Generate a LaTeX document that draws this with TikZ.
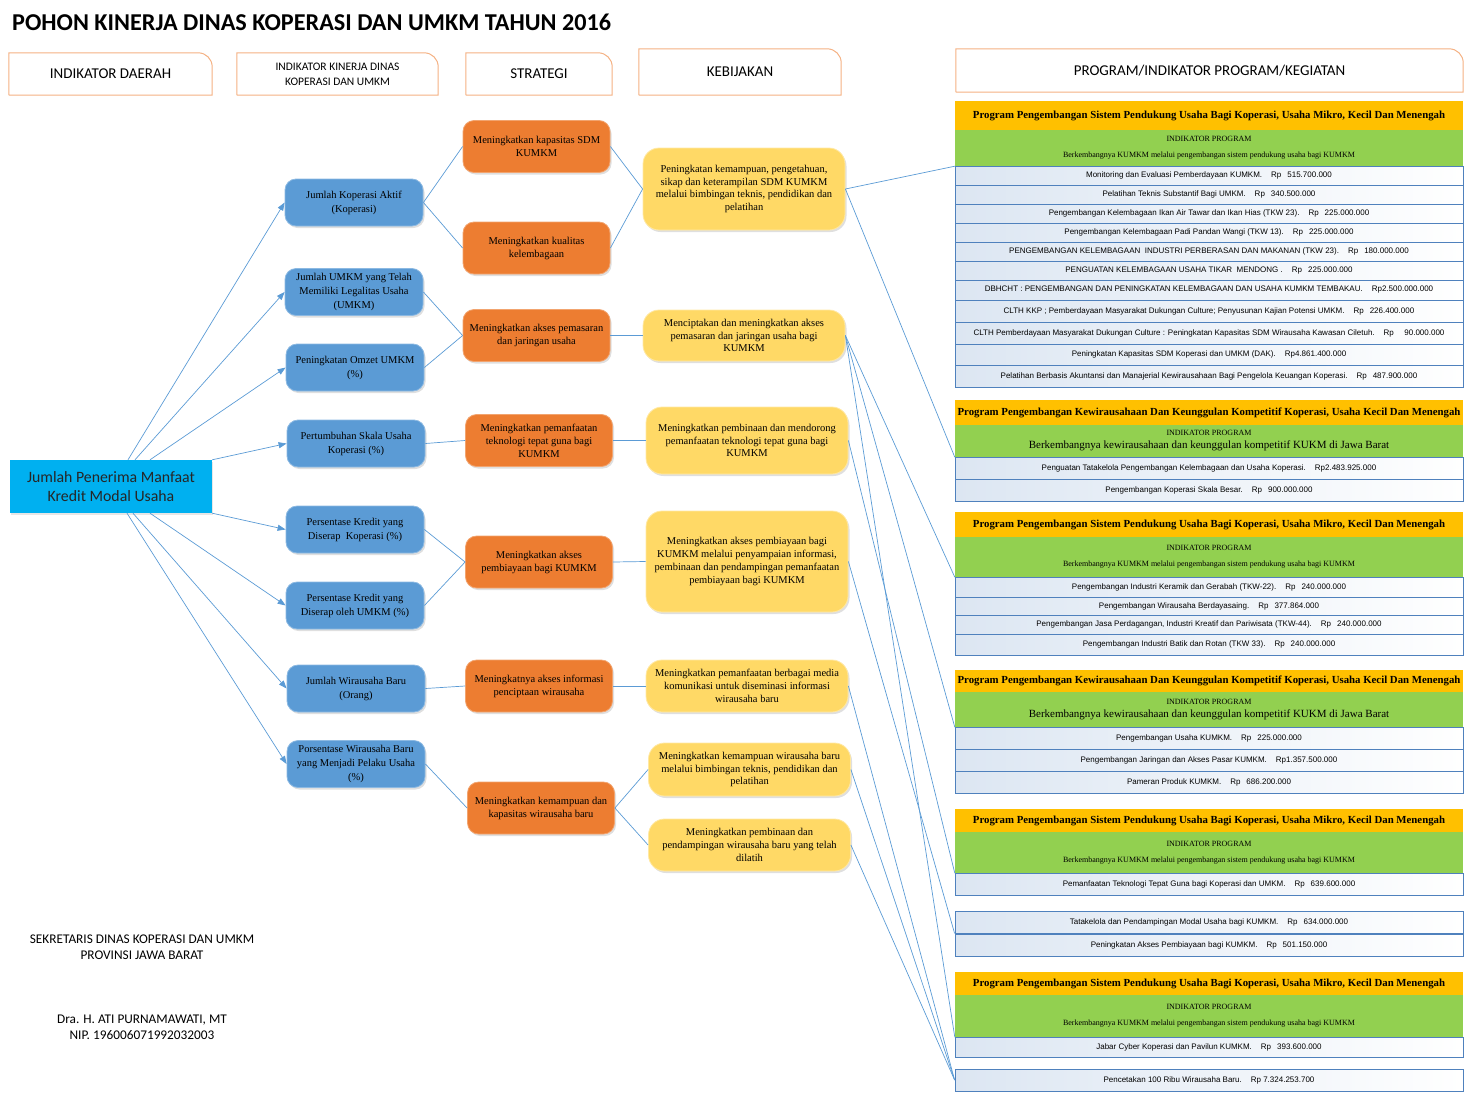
\documentclass[tikz,border=0pt]{standalone}
\usepackage{fontspec}
\setmainfont{Liberation Serif}
\newfontfamily\calibfont{Carlito}
\newfontfamily\arialfont{Liberation Sans}
\usetikzlibrary{arrows.meta,shadows}

\definecolor{RootClr}{RGB}{0,176,240}
\definecolor{IndClr}{RGB}{91,155,213}
\definecolor{StrClr}{RGB}{237,125,49}
\definecolor{KebClr}{RGB}{255,217,102}
\definecolor{ProgClr}{RGB}{255,192,0}
\definecolor{IndProgClr}{RGB}{146,208,80}
\definecolor{LinkClr}{RGB}{91,155,213}
\definecolor{HdrClr}{RGB}{244,177,131}
\definecolor{RowClr}{RGB}{79,129,189}
\definecolor{RowFill}{RGB}{220,230,242}

\newcommand{\progSis}{Program Pengembangan Sistem Pendukung Usaha Bagi Koperasi, Usaha Mikro, Kecil Dan Menengah}
\newcommand{\progKew}{Program Pengembangan Kewirausahaan Dan Keunggulan Kompetitif Koperasi, Usaha Kecil Dan Menengah}
\newcommand{\indSis}{{\fontsize{8}{9}\selectfont INDIKATOR PROGRAM}\\[4pt]{\fontsize{8}{9}\selectfont Berkembangnya KUMKM melalui pengembangan sistem pendukung usaha bagi KUMKM}}
\newcommand{\indKew}{{\fontsize{8}{9}\selectfont INDIKATOR PROGRAM}\\[1pt]{\fontsize{11}{12}\selectfont Berkembangnya kewirausahaan dan keunggulan kompetitif KUKM di Jawa Barat}}
\newcommand{\Rp}[1]{\hspace{9pt}Rp\hspace{6pt}#1}
\newcommand{\Rpn}[1]{\hspace{9pt}Rp#1}

\tikzset{
  judul/.style={anchor=west,inner sep=0pt,font=\calibfont\bfseries\fontsize{24.2}{27}\selectfont},
  hdrbox/.style={inner sep=1pt,align=center,font=\calibfont\fontsize{15}{17}\selectfont},
  hdrline/.style={draw=HdrClr,line width=1pt},
  rootbox/.style={fill=RootClr,minimum width=202pt,minimum height=53pt,align=center,
    text=black!85,font=\calibfont\fontsize{15.8}{19}\selectfont,
    drop shadow={shadow xshift=1pt,shadow yshift=-1.5pt,opacity=0.2}},
  indbox/.style={fill=IndClr,draw=IndClr!70!white,line width=0.8pt,rounded corners=11pt,
    minimum width=138pt,minimum height=47pt,inner sep=1pt,align=center,
    font=\fontsize{10.5}{14}\selectfont,
    drop shadow={shadow xshift=1.5pt,shadow yshift=-2pt,opacity=0.25}},
  strbox/.style={indbox,fill=StrClr,draw=StrClr!70!white,minimum width=147pt,minimum height=52pt,
    font=\fontsize{10.5}{13}\selectfont},
  kebbox/.style={indbox,fill=KebClr,draw=KebClr!60!white,rounded corners=16pt,minimum width=202pt,
    font=\fontsize{10.5}{12.7}\selectfont},
  proghead/.style={fill=ProgClr,minimum width=508pt,inner sep=1pt,
    font=\bfseries\fontsize{10.8}{12}\selectfont},
  progind/.style={fill=IndProgClr,minimum width=508pt,inner sep=1pt,align=center},
  kegiatan/.style={draw=RowClr,line width=0.8pt,left color=RowFill,right color=white,
    minimum width=508pt,inner sep=0pt,font=\arialfont\fontsize{8}{9}\selectfont},
  foot/.style={align=center,font=\calibfont\fontsize{13.3}{16}\selectfont},
  link/.style={draw=LinkClr,line width=0.7pt},
  panah/.style={link,-{Triangle[length=8pt,width=6pt]}}
}

\begin{document}
\begin{tikzpicture}[x=1pt,y=-1pt]
\useasboundingbox (0,0) rectangle (1473,1095);

% Judul dan kepala kolom.
\node[judul] (judul) at (12,22) {POHON KINERJA DINAS KOPERASI DAN UMKM TAHUN 2016};
\node[hdrbox,minimum width=203pt,minimum height=42pt] (hDaerah) at (110.5,74) {INDIKATOR DAERAH};
\node[hdrbox,minimum width=201pt,minimum height=42pt,font=\calibfont\fontsize{11.5}{15}\selectfont] (hKinerja) at (337.5,74) {INDIKATOR KINERJA DINAS\\KOPERASI DAN UMKM};
\node[hdrbox,minimum width=146pt,minimum height=42pt] (hStrategi) at (539,74) {STRATEGI};
\node[hdrbox,minimum width=202pt,minimum height=46pt] (hKebijakan) at (740,72) {KEBIJAKAN};
\node[hdrbox,minimum width=507pt,minimum height=43pt] (hProgram) at (1209.5,70.5) {PROGRAM/INDIKATOR PROGRAM/KEGIATAN};
\foreach \h in {hDaerah,hKinerja,hStrategi,hKebijakan,hProgram}
  \draw[hdrline] (\h.south west) |- ([xshift=-14pt]\h.north east) arc[start angle=90,end angle=0,radius=14pt] |- (\h.south west);

% Indikator daerah dan indikator kinerja.
\node[rootbox] (root) at (111,486.5) {Jumlah Penerima Manfaat\\Kredit Modal Usaha};

\node[indbox] (b1) at (354,202.5) {Jumlah Koperasi Aktif\\(Koperasi)};
\node[indbox] (b2) at (354,292) {Jumlah UMKM yang Telah\\Memiliki Legalitas Usaha\\(UMKM)};
\node[indbox] (b3) at (355,367.5) {Peningkatan Omzet UMKM\\(\%)};
\node[indbox] (b4) at (356,443.5) {Pertumbuhan Skala Usaha\\Koperasi (\%)};
\node[indbox] (b5) at (355,529.5) {Persentase Kredit yang\\Diserap\ \ Koperasi (\%)};
\node[indbox] (b6) at (355,605.5) {Persentase Kredit yang\\Diserap oleh UMKM (\%)};
\node[indbox] (b7) at (356,688.5) {Jumlah Wirausaha Baru\\(Orang)};
\node[indbox] (b8) at (356,764) {Porsentase Wirausaha Baru\\yang Menjadi Pelaku Usaha\\(\%)};

% Strategi.
\node[strbox] (o1) at (536.5,146.5) {Meningkatkan kapasitas SDM\\KUMKM};
\node[strbox] (o2) at (536.5,248) {Meningkatkan kualitas\\kelembagaan};
\node[strbox] (o3) at (536.5,335.5) {Meningkatkan akses pemasaran\\dan jaringan usaha};
\node[strbox] (o4) at (539,440.5) {Meningkatkan pemanfaatan\\teknologi tepat guna bagi\\KUMKM};
\node[strbox] (o5) at (539,562) {Meningkatkan akses\\pembiayaan bagi KUMKM};
\node[strbox] (o6) at (539,686) {Meningkatnya akses informasi\\penciptaan wirausaha};
\node[strbox] (o7) at (541,808) {Meningkatkan kemampuan dan\\kapasitas wirausaha baru};

% Kebijakan.
\node[kebbox,minimum height=82pt] (y1) at (744,189) {Peningkatan kemampuan, pengetahuan,\\sikap dan keterampilan SDM KUMKM\\melalui bimbingan teknis, pendidikan dan\\pelatihan};
\node[kebbox,minimum height=51pt] (y2) at (744,335.5) {Menciptakan dan meningkatkan akses\\pemasaran dan jaringan usaha bagi\\KUMKM};
\node[kebbox,minimum height=67pt] (y3) at (747,440.5) {Meningkatkan pembinaan dan mendorong\\pemanfaatan teknologi tepat guna bagi\\KUMKM};
\node[kebbox,minimum height=101pt] (y4) at (747,561.5) {Meningkatkan akses pembiayaan bagi\\KUMKM melalui penyampaian informasi,\\pembinaan dan pendampingan pemanfaatan\\pembiayaan bagi KUMKM};
\node[kebbox,minimum height=52pt] (y5) at (747,686) {Meningkatkan pemanfaatan berbagai media\\komunikasi untuk diseminasi informasi\\wirausaha baru};
\node[kebbox,minimum height=53pt] (y6) at (749.5,769.5) {Meningkatkan kemampuan wirausaha baru\\melalui bimbingan teknis, pendidikan dan\\pelatihan};
\node[kebbox,minimum height=52pt] (y7) at (749.5,845) {Meningkatkan pembinaan dan\\pendampingan wirausaha baru yang telah\\dilatih};

% Program dan indikator program.
\node[proghead,minimum height=29pt] (p1) at (1209,115.5) {\progSis};
\node[progind,minimum height=36pt] (g1) at (1209,148) {\indSis};
\node[proghead,minimum height=25pt] (p2) at (1209,412.5) {\progKew};
\node[progind,minimum height=32pt] (g2) at (1209,441) {\indKew};
\node[proghead,minimum height=25pt] (p3) at (1209,524.5) {\progSis};
\node[progind,minimum height=40pt] (g3) at (1209,557) {\indSis};
\node[proghead,minimum height=22pt] (p4) at (1209,681) {\progKew};
\node[progind,minimum height=35pt] (g4) at (1209,709.5) {\indKew};
\node[proghead,minimum height=23pt] (p5) at (1209,820.5) {\progSis};
\node[progind,minimum height=41pt] (g5) at (1209,852.5) {\indSis};
\node[proghead,minimum height=23pt] (p6) at (1209,983.5) {\progSis};
\node[progind,minimum height=42pt] (g6) at (1209,1016) {\indSis};

% Kegiatan.
\foreach \yt/\yb/\txt [count=\i] in {
  166/185/{Monitoring dan Evaluasi Pemberdayaan KUMKM.\Rp{515.700.000}},
  185/204/{Pelatihan Teknis Substantif Bagi UMKM.\Rp{340.500.000}},
  204/223/{Pengembangan Kelembagaan Ikan Air Tawar dan Ikan Hias (TKW 23).\Rp{225.000.000}},
  223/242/{Pengembangan Kelembagaan Padi Pandan Wangi (TKW 13).\Rp{225.000.000}},
  242/261/{PENGEMBANGAN KELEMBAGAAN\ \ INDUSTRI PERBERASAN DAN MAKANAN (TKW 23).\Rp{180.000.000}},
  261/280/{PENGUATAN KELEMBAGAAN USAHA TIKAR\ \ MENDONG .\Rp{225.000.000}},
  280/300/{DBHCHT : PENGEMBANGAN DAN PENINGKATAN KELEMBAGAAN DAN USAHA KUMKM TEMBAKAU.\Rpn{2.500.000.000}},
  300/322/{CLTH KKP ; Pemberdayaan Masyarakat Dukungan Culture; Penyusunan Kajian Potensi UMKM.\Rp{226.400.000}},
  322/344/{CLTH Pemberdayaan Masyarakat Dukungan Culture : Peningkatan Kapasitas SDM Wirausaha Kawasan Ciletuh.\Rp{\ \ 90.000.000}},
  344/365/{Peningkatan Kapasitas SDM Koperasi dan UMKM (DAK).\Rpn{4.861.400.000}},
  365/387/{Pelatihan Berbasis Akuntansi dan Manajerial Kewirausahaan Bagi Pengelola Keuangan Koperasi.\Rp{487.900.000}},
  457/479/{Penguatan Tatakelola Pengembangan Kelembagaan dan Usaha Koperasi.\Rpn{2.483.925.000}},
  479/501/{Pengembangan Koperasi Skala Besar.\Rp{900.000.000}},
  577/597/{Pengembangan Industri Keramik dan Gerabah (TKW-22).\Rp{240.000.000}},
  597/615/{Pengembangan Wirausaha Berdayasaing.\Rp{377.864.000}},
  615/634/{Pengembangan Jasa Perdagangan, Industri Kreatif dan Pariwisata (TKW-44).\Rp{240.000.000}},
  634/655/{Pengembangan Industri Batik dan Rotan (TKW 33).\Rp{240.000.000}},
  727/749/{Pengembangan Usaha KUMKM.\Rp{225.000.000}},
  749/771/{Pengembangan Jaringan dan Akses Pasar KUMKM.\Rpn{1.357.500.000}},
  771/793/{Pameran Produk KUMKM.\Rp{686.200.000}},
  873/895/{Pemanfaatan Teknologi Tepat Guna bagi Koperasi dan UMKM.\Rp{639.600.000}},
  911/933/{Tatakelola dan Pendampingan Modal Usaha bagi KUMKM.\Rp{634.000.000}},
  934/956/{Peningkatan Akses Pembiayaan bagi KUMKM.\Rp{501.150.000}},
  1037/1057/{Jabar Cyber Koperasi dan Pavilun KUMKM.\Rp{393.600.000}},
  1069/1091/{Pencetakan 100 Ribu Wirausaha Baru.\Rpn{ 7.324.253.700}}}
  \node[kegiatan,minimum height={(\yb-\yt)*1pt}] (k\i) at (1209,{(\yt+\yb)/2}) {\txt};

% Panah dari indikator daerah.
\draw[panah] ([xshift=17pt]root.north) -- (b1.west);
\draw[panah] ([xshift=24pt]root.north) -- (b2.west);
\draw[panah] ([xshift=39pt]root.north) -- (b3.west);
\draw[panah] (root.north east) -- (b4.west);
\draw[panah] (root.south east) -- (b5.west);
\draw[panah] ([xshift=39pt]root.south) -- (b6.west);
\draw[panah] ([xshift=22pt]root.south) -- (b7.west);
\draw[panah] ([xshift=16pt]root.south) -- (b8.west);

% Garis penghubung.
\draw[link] (b1.east) -- (o1.west);
\draw[link] (b1.east) -- (o2.west);
\draw[link] (b2.east) -- (o3.west);
\draw[link] (b3.east) -- (o3.west);
\draw[link] (b4.east) -- (o4.west);
\draw[link] (b5.east) -- (o5.west);
\draw[link] (b6.east) -- (o5.west);
\draw[link] (b7.east) -- (o6.west);
\draw[link] (b8.east) -- (o7.west);

\draw[link] (o1.east) -- (y1.west);
\draw[link] (o2.east) -- (y1.west);
\draw[link] (o3.east) -- (y2.west);
\draw[link] (o4.east) -- (y3.west);
\draw[link] (o5.east) -- (y4.west);
\draw[link] (o6.east) -- (y5.west);
\draw[link] (o7.east) -- (y6.west);
\draw[link] (o7.east) -- (y7.west);

\draw[link] (y1.east) -- (g1.south west);
\draw[link] (y1.east) -- (g2.south west);
\draw[link] (y2.east) -- (g3.south west);
\draw[link] (y2.east) -- (g4.south west);
\draw[link] (y2.east) -- (g6.south west);
\draw[link] (y3.east) -- (g5.south west);
\draw[link] (y4.east) -- (k22.south west);
\draw[link] (y5.east) -- (k25.west);
\draw[link] (y6.east) -- (k25.west);
\draw[link] (y7.east) -- (k25.west);

% Tanda tangan.
\node[foot] (sekretaris) at (142,947) {SEKRETARIS DINAS KOPERASI DAN UMKM\\PROVINSI JAWA BARAT};
\node[foot] (nama) at (142,1027) {Dra. H. ATI PURNAMAWATI, MT\\NIP. 196006071992032003};

\end{tikzpicture}
\end{document}
